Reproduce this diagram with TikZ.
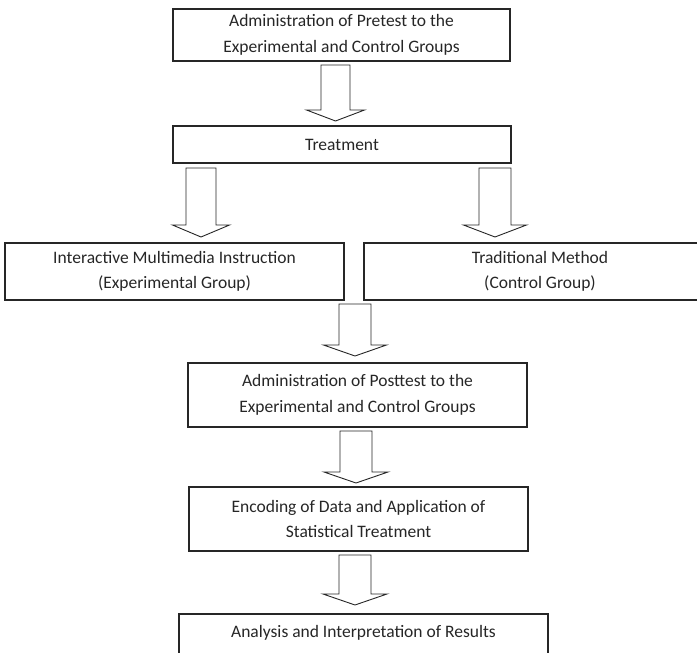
\documentclass[tikz,border=0pt]{standalone}
\usepackage{fontspec}
\setmainfont{Carlito}
\newcommand{\blockarr}[6]{%
  \draw[barrow] ({#1-#5},#2) -- ({#1-#5},#3) -- ({#1-#6},#3) -- (#1,#4) -- ({#1+#6},#3) -- ({#1+#5},#3) -- ({#1+#5},#2) -- cycle;}
\begin{document}
\begin{tikzpicture}[x=1pt,y=-1pt,
  box/.style={draw=black!85, line width=1.2pt, rectangle, align=center, inner sep=0pt,
    font=\fontsize{17.5}{25.5}\selectfont, text=black!85},
  lbl/.style={align=center, inner sep=0pt, font=\fontsize{17.5}{25.5}\selectfont, text=black!85},
  barrow/.style={draw=black!85, line width=0.9pt, line join=miter, fill=white}]
\useasboundingbox (0,0) rectangle (697,653);
\node[box, minimum width=337pt, minimum height=52pt] (pre) at (341.5,35)
  {Administration of Pretest to the\\Experimental and Control Groups};
\node[box, minimum width=338pt, minimum height=37pt] (treat) at (342,144.5) {Treatment};
\node[box, minimum width=339pt, minimum height=57pt] (imi) at (174.5,271.5)
  {Interactive Multimedia Instruction\\(Experimental Group)};
\node[box, minimum width=352pt, minimum height=57pt] (trad) at (540,271.5)
  {Traditional Method\\(Control Group)};
\node[box, minimum width=339pt, minimum height=64pt] (post) at (357.5,395)
  {Administration of Posttest to the\\Experimental and Control Groups};
\node[box, minimum width=339pt, minimum height=64pt] (enc) at (358.5,519)
  {Encoding of Data and Application of\\Statistical Treatment};
\node[box, minimum width=369pt, minimum height=60pt] (ana) at (363.5,644) {};
\node[lbl] (anatext) at (363.5,633) {Analysis and Interpretation of Results};
\blockarr{335.5}{65}{110}{121}{14.5}{29}
\blockarr{201}{168}{225}{237}{15}{28.5}
\blockarr{495}{168}{225}{237}{16}{31.5}
\blockarr{355}{304}{345}{356}{16}{31.5}
\blockarr{356}{431}{472}{483}{16}{32}
\blockarr{355}{555}{594}{605}{16}{32}
\end{tikzpicture}
\end{document}
